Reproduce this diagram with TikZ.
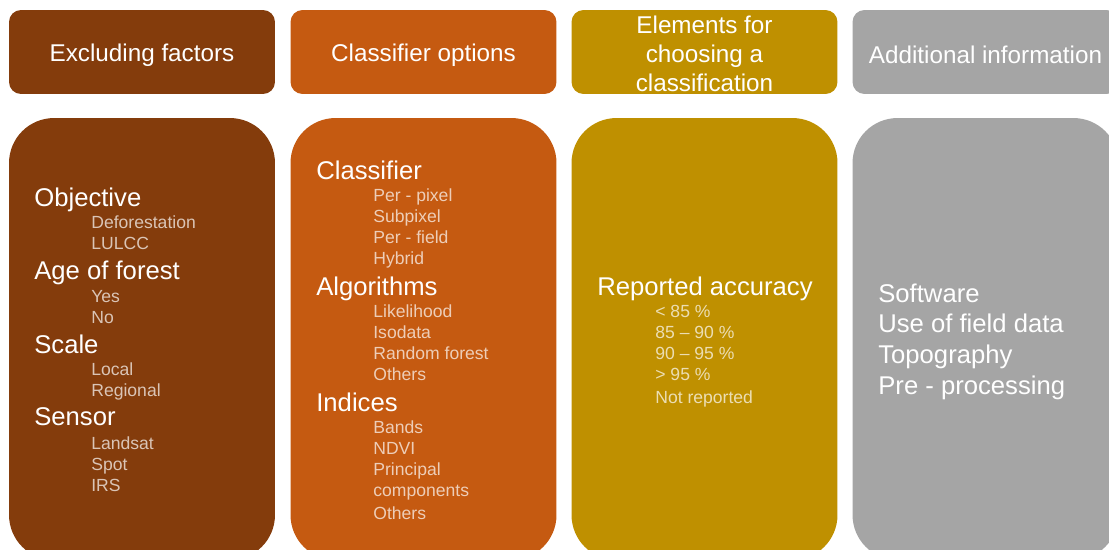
\documentclass[tikz,border=0pt]{standalone}
\usepackage{fontspec}
\setmainfont{Liberation Sans}
\usepackage{xcolor}
\usepackage{tikz}
\usetikzlibrary{positioning}

\definecolor{exbrown}{HTML}{843C0C}
\definecolor{clorange}{HTML}{C55A11}
\definecolor{elgold}{HTML}{BF9000}
\definecolor{adgray}{HTML}{A5A5A5}

\tikzset{
  hdr/.style={rounded corners=0.24cm,minimum width=5.32cm,minimum height=1.68cm},
  hdrtxt/.style={inner sep=0,align=center,text=white,font=\fontsize{13.8}{16.4}\selectfont},
  body/.style={rounded corners=0.9cm,minimum width=5.32cm,minimum height=8.84cm},
  head/.style={anchor=west,inner sep=0,text=white,
    font=\fontsize{14.6}{17}\selectfont,text height=0.72em,text depth=0pt},
  item/.style={anchor=west,inner sep=0,text=white,text opacity=0.7,
    font=\fontsize{10}{12}\selectfont,text height=0.72em,text depth=0pt}
}

\begin{document}
\begin{tikzpicture}[x=0.02cm,y=-0.02cm]
  \useasboundingbox (0,0) rectangle (1109,550);
  \clip (0,0) rectangle (1109,550);
  % headers
  \node[hdr,fill=exbrown] (hex) at (142,52) {};
  \node[hdr,fill=clorange] (hcl) at (423.5,52) {};
  \node[hdr,fill=elgold] (hel) at (704.5,52) {};
  \node[hdr,fill=adgray] (had) at (985.5,52) {};
  \node[hdrtxt] (tex) at (142,55) {Excluding factors};
  \node[hdrtxt] (tcl) at (423.5,55) {Classifier options};
  \node[hdrtxt] (tel) at (704.5,54) {Elements for\\choosing a\\classification};
  \node[hdrtxt] (tad) at (985.5,55) {Additional information};
  % bodies
  \node[body,fill=exbrown] (bex) at (142,339) {};
  \node[body,fill=clorange] (bcl) at (423.5,339) {};
  \node[body,fill=elgold] (bel) at (704.5,339) {};
  \node[body,fill=adgray] (bad) at (985.5,339) {};
  % excluding factors
  \foreach \yy/\txt [count=\i] in {200/Objective,273/Age of forest,347/Scale,419/Sensor}
    \node[head] (exh\i) at (34,\yy) {\txt};
  \foreach \yy/\txt [count=\i] in {222/Deforestation,243/LULCC,296/Yes,317/No,
                                   369/Local,390/Regional,443/Landsat,464/Spot,485/IRS}
    \node[item] (exi\i) at (91,\yy) {\txt};
  % classifier options
  \foreach \yy/\txt [count=\i] in {173/Classifier,289/Algorithms,405/Indices}
    \node[head] (clh\i) at (316,\yy) {\txt};
  \foreach \yy/\txt [count=\i] in {195/Per - pixel,216/Subpixel,237/Per - field,258/Hybrid,
                                   311/Likelihood,332/Isodata,353/Random forest,374/Others,
                                   427/Bands,448/NDVI,469/Principal,490/components,513/Others}
    \node[item] (cli\i) at (373,\yy) {\txt};
  % elements for choosing
  \node[head] (elh1) at (597,289) {Reported accuracy};
  \foreach \yy/\txt [count=\i] in {311/< 85 \%,332/85 – 90 \%,353/90 – 95 \%,374/> 95 \%,397/Not reported}
    \node[item] (eli\i) at (655,\yy) {\txt};
  % additional information
  \foreach \yy/\txt [count=\i] in {296/Software,326/Use of field data,357/Topography,388/Pre - processing}
    \node[head] (adh\i) at (878,\yy) {\txt};
\end{tikzpicture}
\end{document}
